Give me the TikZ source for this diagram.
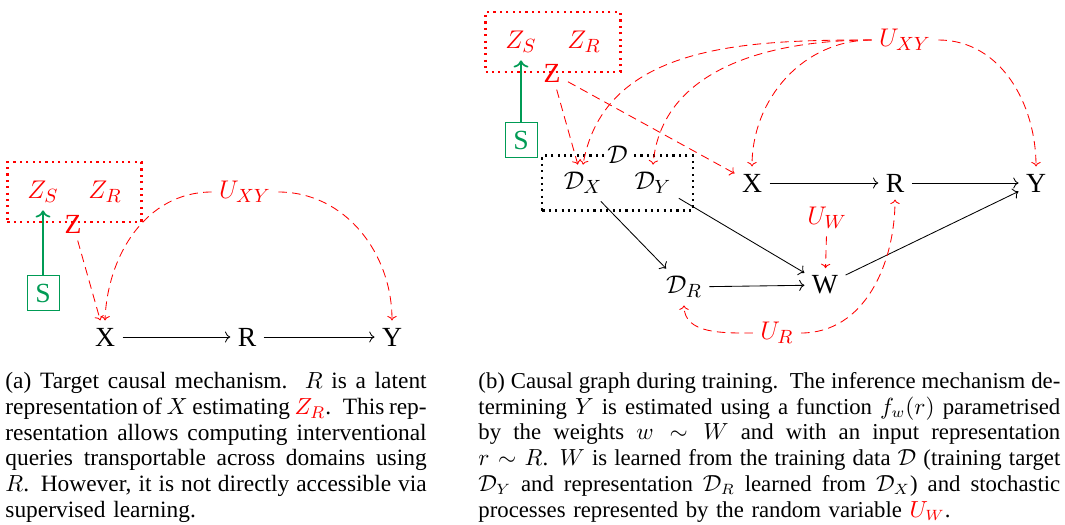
\documentclass[tikz,border=0pt]{standalone}
\usepackage{fontspec}
\setmainfont{Liberation Serif}
\usetikzlibrary{arrows.meta,positioning,fit}
\definecolor{selgreen}{RGB}{0,155,85}
\newcommand{\capline}[2]{\hbox to #1{\spaceskip=.25em plus .2em minus .08em\relax #2}}

\begin{document}
\begin{tikzpicture}[
  x=0.47pt,y=-0.47pt,
  font=\fontsize{13}{15}\selectfont,
  >={To},
  var/.style={},
  hid/.style={text=red},
  zbox/.style={draw=red,dotted,line width=1pt,inner xsep=5.8pt,inner ysep=5.3pt},
  dbox/.style={draw=black,dotted,line width=1pt,inner xsep=6.5pt,inner ysep=4.3pt},
  sbox/.style={draw=selgreen,text=selgreen,minimum width=15pt,minimum height=16.5pt,inner sep=1pt},
  cause/.style={->},
  conf/.style={->,red,dash pattern=on 4pt off 2.5pt,>={To[scale=.85]}},
  sel/.style={->,thick,draw=selgreen},
  caption/.style={anchor=north west,inner sep=0pt},
]
\useasboundingbox (0,0) rectangle (1065,524);

% ---- (a) target causal mechanism ----
\node[hid] (zsA) at (43,192) {$Z_S$};
\node[hid] (zrA) at (105,192) {$Z_R$};
\node[zbox,fit=(zsA)(zrA)] (zboxA) {};
\node[hid] (zA) at (73,224) {Z};
\node[sbox] (sA) at (43,293) {S};
\node[var] (xA) at (105,337) {X};
\node[var] (rA) at (247,337) {R};
\node[var] (yA) at (392,337) {Y};
\node[hid] (uxyA) at (245,192) {$U_{XY}$};

\draw[sel] (sA) -- (zsA);
\draw[cause] (xA) -- (rA);
\draw[cause] (rA) -- (yA);
\draw[conf] (zA) -- (xA);
\draw[conf] (uxyA.west) to[out=180,in=88] (xA.north);
\draw[conf] (uxyA.east) to[out=0,in=90] (yA.north);

% ---- (b) causal graph during training ----
\node[hid] (zsB) at (521,42) {$Z_S$};
\node[hid] (zrB) at (584,42) {$Z_R$};
\node[zbox,fit=(zsB)(zrB)] (zboxB) {};
\node[hid] (zB) at (552,73) {Z};
\node[sbox] (sB) at (521,140) {S};
\node[var] (dxB) at (583,183) {$\mathcal{D}_X$};
\node[var] (dyB) at (653,183) {$\mathcal{D}_Y$};
\node[dbox,fit=(dxB)(dyB)] (dB) {};
\node[fill=white,inner sep=1pt] (dlab) at (dB.north) {$\mathcal{D}$};
\node[var] (xB) at (752,183) {X};
\node[var] (rB) at (895,183) {R};
\node[var] (yB) at (1036,183) {Y};
\node[hid] (uxyB) at (905,40) {$U_{XY}$};
\node[hid] (uwB) at (827,218) {$U_W$};
\node[var] (wB) at (825,285) {W};
\node[var] (drB) at (684,287) {$\mathcal{D}_R$};
\node[hid] (urB) at (777,333) {$U_R$};

\draw[sel] (sB) -- (zsB);
\draw[cause] (xB) -- (rB);
\draw[cause] (rB) -- (yB);
\draw[cause] (dxB) -- (drB);
\draw[cause] (dyB) -- (wB);
\draw[cause] (drB) -- (wB);
\draw[cause] (wB) -- (yB);
\draw[conf] (zB) -- (dxB);
\draw[conf] (zB) -- (xB);
\draw[conf] (uxyB.west) to[out=180,in=80] (dxB.north);
\draw[conf] (uxyB.west) to[out=180,in=85] (dyB.north);
\draw[conf] (uxyB.west) to[out=180,in=90] (xB.north);
\draw[conf] (uxyB.east) to[out=0,in=90] (yB.north);
\draw[conf] (uwB) -- (wB);
\draw[conf] (urB.west) to[out=180,in=-90] (drB.south);
\draw[conf] (urB.east) to[out=0,in=-90] (rB.south);

% ---- captions ----
\node[caption,font=\fontsize{11}{12.1}\selectfont,text width=198pt] (capA) at (5,372)
  {\capline{198pt}{(a) Target causal mechanism.\ \ $R$ is a latent}
   \capline{198pt}{representation of $X$ estimating \textcolor{red}{$Z_R$}. This rep-}
   \capline{198pt}{resentation allows computing interventional}
   \capline{198pt}{queries transportable across domains using}
   \capline{198pt}{$R$. However, it is not directly accessible via}
   \hbox{supervised learning.}};
\node[caption,font=\fontsize{10.7}{12.1}\selectfont,text width=273.5pt] (capB) at (478,372)
  {\capline{273.5pt}{(b) Causal graph during training. The inference mechanism de-}
   \capline{273.5pt}{termining $Y$ is estimated using a function $f_w(r)$ parametrised}
   \capline{273.5pt}{by the weights $w \sim W$ and with an input representation}
   \capline{273.5pt}{$r \sim R$. $W$ is learned from the training data $\mathcal{D}$ (training target}
   \capline{273.5pt}{$\mathcal{D}_Y$ and representation $\mathcal{D}_R$ learned from $\mathcal{D}_X$) and stochastic}
   \hbox{processes represented by the random variable \textcolor{red}{$U_W$}.}};

\end{tikzpicture}
\end{document}
